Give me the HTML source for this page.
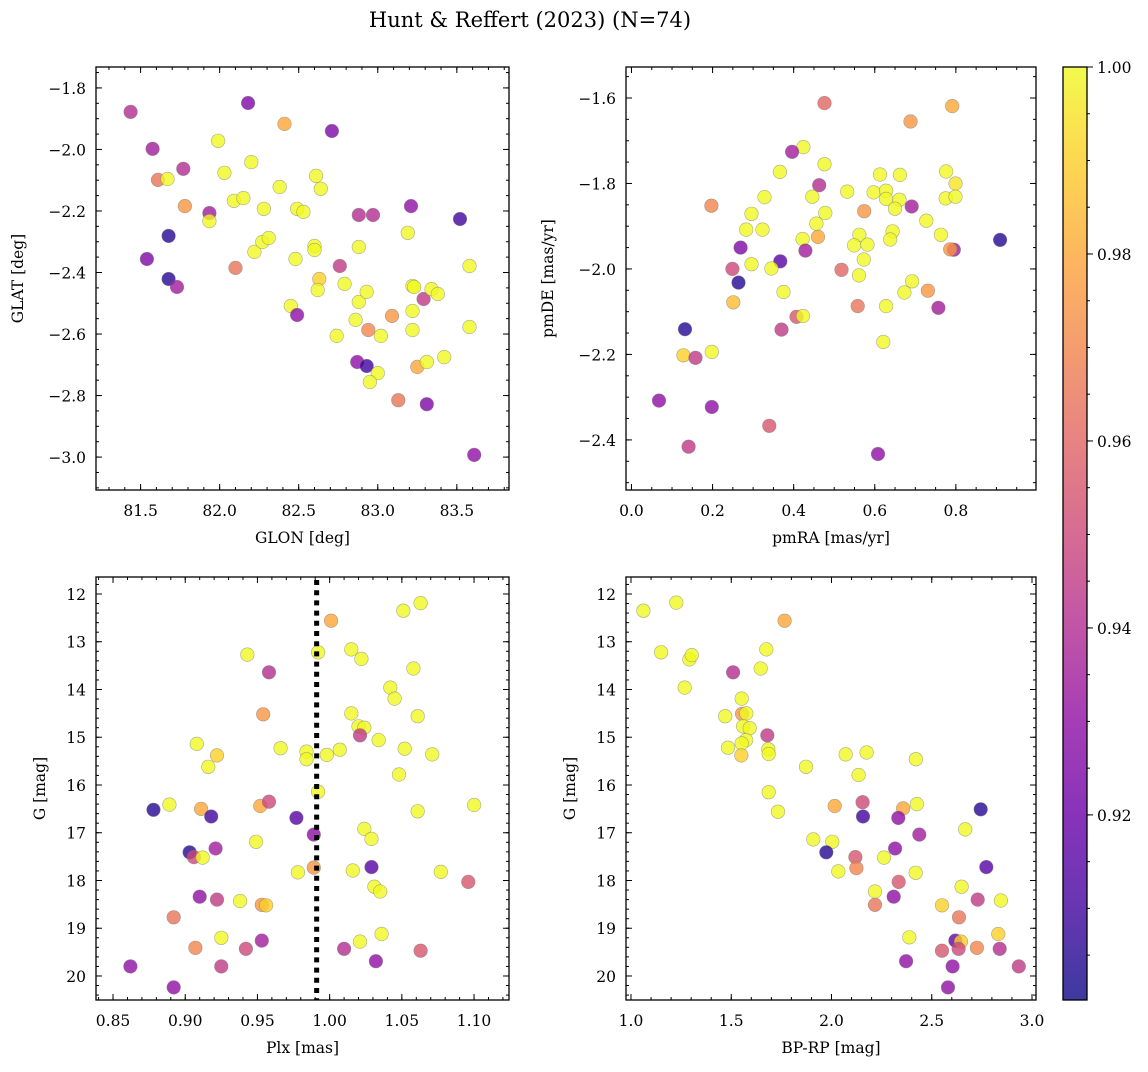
<!DOCTYPE html>
<html><head><meta charset="utf-8"><style>
html,body{margin:0;padding:0;background:#fff;}
svg text{font-family:"DejaVu Serif","Liberation Serif",serif;fill:#000;}
</style></head><body>
<svg id="fig" width="1148" height="1067" viewBox="0 0 1148 1067" xmlns="http://www.w3.org/2000/svg">
<text x="530" y="27" font-size="21" text-anchor="middle">Hunt &amp; Reffert (2023) (N=74)</text>
</svg>
<script>
// Panel 1: GLON vs GLAT
const glonA=[81.437,82.18,81.576,81.61,81.67,81.77,81.78,81.99,82.03,81.935,81.935,81.677,81.54,81.677,81.73,82.1,82.09,82.15,82.2,82.22,82.27,82.31,82.28,82.38,82.41,82.49,82.53,82.48,82.45,82.49,82.61,82.64,82.6,82.6,82.63,82.62,82.71,82.76,82.79,82.74,82.88,82.97,82.88,82.88,82.93,82.86,82.94,83.02,82.87,82.93,83.0,82.95,83.09,83.13,83.19,83.21,83.22,83.23,83.22,83.22,83.25,83.29,83.34,83.38,83.31,83.31,83.42,83.58,83.58,83.52,83.61];
const glatA=[-1.878,-1.849,-1.998,-2.099,-2.096,-2.063,-2.184,-1.972,-2.076,-2.207,-2.233,-2.281,-2.356,-2.421,-2.447,-2.385,-2.167,-2.158,-2.041,-2.333,-2.301,-2.288,-2.193,-2.122,-1.917,-2.193,-2.203,-2.356,-2.509,-2.538,-2.086,-2.128,-2.314,-2.327,-2.421,-2.457,-1.94,-2.379,-2.437,-2.606,-2.213,-2.213,-2.317,-2.496,-2.463,-2.554,-2.587,-2.606,-2.691,-2.704,-2.727,-2.756,-2.541,-2.815,-2.271,-2.184,-2.444,-2.447,-2.525,-2.587,-2.707,-2.486,-2.454,-2.47,-2.691,-2.828,-2.675,-2.379,-2.577,-2.226,-2.993];
const prob1=[.94,.925,.935,.965,1,.94,.975,1,1,.935,1,.905,.925,.905,.935,.965,1,1,1,1,1,1,1,1,.98,1,1,1,1,.93,1,1,1,1,.99,1,.925,.945,1,1,.94,.94,1,1,1,1,.97,1,.93,.91,1,1,.975,.965,1,.93,1,1,1,1,.98,.945,1,1,1,.925,1,1,1,.91,.93];
// Panel 2: pmRA vs pmDE
const pmraA=[0.476,0.791,0.688,0.424,0.396,0.476,0.366,0.463,0.532,0.613,0.662,0.776,0.799,0.597,0.628,0.628,0.661,0.65,0.775,0.799,0.691,0.328,0.446,0.197,0.296,0.574,0.478,0.456,0.283,0.323,0.46,0.422,0.562,0.549,0.582,0.644,0.638,0.727,0.763,0.795,0.786,0.909,0.269,0.429,0.367,0.296,0.345,0.249,0.518,0.573,0.561,0.264,0.375,0.251,0.692,0.673,0.731,0.407,0.423,0.558,0.628,0.757,0.37,0.132,0.621,0.128,0.158,0.198,0.068,0.198,0.34,0.141,0.608];
const pmdeA=[-1.612,-1.619,-1.655,-1.715,-1.726,-1.755,-1.773,-1.804,-1.819,-1.779,-1.78,-1.772,-1.8,-1.821,-1.817,-1.836,-1.838,-1.859,-1.835,-1.831,-1.854,-1.832,-1.831,-1.852,-1.871,-1.865,-1.869,-1.894,-1.908,-1.908,-1.925,-1.93,-1.92,-1.945,-1.943,-1.912,-1.931,-1.887,-1.92,-1.955,-1.954,-1.932,-1.95,-1.957,-1.982,-1.989,-1.999,-2.0,-2.002,-1.978,-2.015,-2.032,-2.054,-2.078,-2.029,-2.055,-2.051,-2.112,-2.11,-2.087,-2.087,-2.091,-2.142,-2.141,-2.171,-2.202,-2.208,-2.194,-2.308,-2.323,-2.367,-2.416,-2.433];
const prob2=[.96,.98,.975,1,.935,1,1,.94,1,1,1,1,.995,1,1,1,1,1,1,1,.935,1,1,.97,1,.975,1,1,1,1,.98,1,1,1,1,1,1,1,1,.935,.975,.905,.925,.935,.915,1,1,.95,.96,1,1,.905,1,.985,1,1,.975,.955,1,.965,1,.935,.945,.905,1,.99,.945,1,.93,.93,.955,.945,.93];
// Panel 3: Plx vs G
const plxA=[1.063,1.051,1.001,0.943,0.992,1.015,1.022,1.058,0.958,1.042,1.045,0.954,1.015,1.061,1.020,1.024,1.021,1.034,0.908,0.922,0.916,0.966,0.984,0.984,0.998,1.007,1.052,1.071,1.048,0.992,0.878,0.889,0.911,0.918,0.952,0.958,0.977,1.061,1.100,0.989,1.024,1.029,0.949,0.903,0.906,0.912,0.921,0.978,0.989,1.016,1.029,1.077,1.096,1.031,1.035,0.910,0.922,0.938,0.953,0.956,0.892,0.925,0.907,0.942,0.953,1.010,1.021,1.036,1.063,1.032,0.862,0.925,0.892];
const gA=[12.19,12.35,12.56,13.27,13.22,13.16,13.36,13.56,13.64,13.96,14.19,14.52,14.50,14.56,14.77,14.80,14.96,15.06,15.14,15.38,15.62,15.23,15.30,15.46,15.37,15.26,15.24,15.36,15.78,16.14,16.52,16.41,16.50,16.66,16.44,16.35,16.69,16.55,16.42,17.04,16.92,17.13,17.19,17.41,17.51,17.52,17.33,17.83,17.73,17.79,17.72,17.82,18.03,18.13,18.23,18.34,18.40,18.43,18.51,18.52,18.77,19.20,19.41,19.43,19.26,19.43,19.28,19.12,19.47,19.69,19.80,19.80,20.24];
const prob3=[1,1,.98,1,1,1,1,1,.94,1,1,.975,1,1,1,1,.945,1,1,.99,1,1,1,1,1,1,1,1,1,1,.905,1,.98,.91,.98,.95,.915,1,1,.93,1,1,1,.905,.95,1,.935,1,.975,1,.915,1,.955,1,1,.93,.945,1,.975,.99,.965,1,.97,.95,.935,.94,1,1,.955,.93,.93,.945,.93];
// Panel 4: BP-RP vs G
const bprpA=[1.062,1.226,1.766,1.150,1.291,1.303,1.647,1.675,1.509,1.268,1.552,1.470,1.554,1.575,1.559,1.592,1.680,1.574,1.552,1.484,1.550,1.685,1.687,1.873,2.071,2.175,2.421,2.135,1.687,1.733,2.155,2.016,2.157,2.357,2.426,2.333,2.744,2.438,2.667,1.909,2.004,1.974,2.317,2.119,2.262,2.124,2.034,2.420,2.772,2.335,2.217,2.310,2.217,2.649,2.551,2.729,2.845,2.636,2.388,2.832,2.618,2.646,2.551,2.634,2.725,2.839,2.372,2.604,2.934,2.581];
const g4A=[12.35,12.18,12.56,13.22,13.37,13.28,13.56,13.16,13.64,13.96,14.19,14.56,14.51,14.50,14.77,14.81,14.96,15.06,15.13,15.22,15.38,15.25,15.35,15.62,15.36,15.32,15.46,15.79,16.15,16.56,16.36,16.44,16.66,16.49,16.40,16.69,16.51,17.04,16.93,17.14,17.19,17.41,17.33,17.51,17.52,17.74,17.81,17.84,17.72,18.03,18.23,18.34,18.51,18.13,18.52,18.40,18.42,18.77,19.19,19.12,19.26,19.28,19.47,19.43,19.41,19.43,19.69,19.80,19.80,20.24];
const prob4=[1,1,.98,1,1,1,1,1,.94,1,1,1,.975,1,1,1,.945,1,1,1,.99,1,1,1,1,1,1,1,1,1,.95,.98,.91,.98,1,.93,.905,.935,1,1,1,.905,.93,.955,1,.97,1,1,.915,.955,1,.93,.965,1,.99,.945,1,.965,1,.99,.92,.99,.955,.95,.97,.94,.93,.93,.945,.93];
const plxRef=[0.991];
const cbTicks=[0.92,0.94,0.96,0.98,1.00];

const NS="http://www.w3.org/2000/svg";
const svg=document.getElementById('fig');
function mk(tag,attrs,parent){const e=document.createElementNS(NS,tag);for(const k in attrs)e.setAttribute(k,attrs[k]);(parent||svg).appendChild(e);return e;}
const VMIN=0.9002,VMAX=1.0;
const stops=[[13,8,135],[65,4,157],[106,0,168],[143,13,164],[177,42,144],[204,71,120],[225,100,98],[242,132,75],[252,166,54],[252,206,37],[240,249,33]];
function plasma(v){let t=(v-VMIN)/(VMAX-VMIN);t=Math.max(0,Math.min(1,t));const f=t*10;const i=Math.min(9,Math.floor(f));const r=f-i;const a=stops[i],b=stops[i+1];return `rgb(${Math.round(a[0]+(b[0]-a[0])*r)},${Math.round(a[1]+(b[1]-a[1])*r)},${Math.round(a[2]+(b[2]-a[2])*r)})`;}
function lin(d0,d1,r0,r1){return v=>r0+(v-d0)*(r1-r0)/(d1-d0);}
function fmt(v,dec){return (v<0?'\u2212':'')+Math.abs(v).toFixed(dec);}

const panels=[
 {name:'glon-glat',L:96,T:67,R:509,B:490,x0:81.218,x1:83.83,y0:-3.107,y1:-1.732,xt:[81.5,82,82.5,83,83.5],xm:0.1,xd:1,yt:[-1.8,-2.0,-2.2,-2.4,-2.6,-2.8,-3.0],ym:0.05,yd:1,xl:'GLON [deg]',yl:'GLAT [deg]',ylx:18,xs:glonA,ys:glatA,cs:prob1},
 {name:'pmra-pmde',L:626,T:67,R:1036,B:490,x0:-0.0135,x1:0.9976,y0:-2.5172,y1:-1.5275,xt:[0,0.2,0.4,0.6,0.8],xm:0.05,xd:1,yt:[-1.6,-1.8,-2.0,-2.2,-2.4],ym:0.05,yd:1,xl:'pmRA [mas/yr]',yl:'pmDE [mas/yr]',ylx:548,xs:pmraA,ys:pmdeA,cs:prob2},
 {name:'plx-g',L:96,T:577,R:509,B:1000,x0:0.8382,x1:1.1242,y0:20.503,y1:11.644,xt:[0.85,0.9,0.95,1.0,1.05,1.1],xm:0.01,xd:2,yt:[12,13,14,15,16,17,18,19,20],ym:0.2,yd:0,xl:'Plx [mas]',yl:'G [mag]',ylx:40,xs:plxA,ys:gA,cs:prob3},
 {name:'bprp-g',L:626,T:577,R:1036,B:1000,x0:0.975,x1:3.02,y0:20.503,y1:11.644,xt:[1.0,1.5,2.0,2.5,3.0],xm:0.1,xd:1,yt:[12,13,14,15,16,17,18,19,20],ym:0.2,yd:0,xl:'BP-RP [mag]',yl:'G [mag]',ylx:570,xs:bprpA,ys:g4A,cs:prob4}
];

panels.forEach(p=>{
 const g=mk('g',{});
 
 
 const X=lin(p.x0,p.x1,p.L,p.R), Y=lin(p.y0,p.y1,p.B,p.T);
 const cg=mk('g',{},g);
 
 
 for(let i=0;i<p.xs.length;i++){
  const c=mk('circle',{cx:X(p.xs[i]).toFixed(1),cy:Y(p.ys[i]).toFixed(1),r:6.8,fill:plasma(p.cs[i]),'fill-opacity':0.8,stroke:'#777','stroke-opacity':0.6,'stroke-width':0.6},cg);
  
  
 }
 if(p.name==='plx-g'){
  plxRef.forEach(v=>{
   const l=mk('line',{x1:X(v),x2:X(v),y1:p.T+3,y2:p.B,stroke:'#000','stroke-width':5,'stroke-dasharray':'5,5.2'},g);
   
   
  });
 }
 const fr=mk('rect',{x:p.L,y:p.T,width:p.R-p.L,height:p.B-p.T,fill:'none',stroke:'#000','stroke-width':1.3},g);
 
 
 const tg=mk('g',{stroke:'#000','stroke-width':1},g);
 
 
 const xa=Math.min(p.x0,p.x1), xb=Math.max(p.x0,p.x1);
 for(let v=Math.ceil(xa/p.xm)*p.xm; v<=xb; v+=p.xm){const px=X(v);mk('line',{x1:px,x2:px,y1:p.B,y2:p.B-3},tg);mk('line',{x1:px,x2:px,y1:p.T,y2:p.T+3},tg);}
 const ya=Math.min(p.y0,p.y1), yb=Math.max(p.y0,p.y1);
 for(let v=Math.ceil(ya/p.ym)*p.ym; v<=yb; v+=p.ym){const py=Y(v);mk('line',{x1:p.L,x2:p.L+3,y1:py,y2:py},tg);mk('line',{x1:p.R,x2:p.R-3,y1:py,y2:py},tg);}
 p.xt.forEach(v=>{const px=X(v);mk('line',{x1:px,x2:px,y1:p.B,y2:p.B-6},tg);mk('line',{x1:px,x2:px,y1:p.T,y2:p.T+6},tg);
  const t=mk('text',{x:px,y:p.B+26,'font-size':15.5,'text-anchor':'middle'},g);t.textContent=fmt(v,p.xd);
  
  });
 p.yt.forEach(v=>{const py=Y(v);mk('line',{x1:p.L,x2:p.L+6,y1:py,y2:py},tg);mk('line',{x1:p.R,x2:p.R-6,y1:py,y2:py},tg);
  const t=mk('text',{x:p.L-10,y:py+6,'font-size':15.5,'text-anchor':'end'},g);t.textContent=fmt(v,p.yd);
  
  });
 const xl=mk('text',{x:(p.L+p.R)/2,y:p.B+53,'font-size':15.5,'text-anchor':'middle'},g);xl.textContent=p.xl;
 
 
 const cy=(p.T+p.B)/2;
 const yl=mk('text',{x:p.ylx,y:cy,'font-size':15.5,'text-anchor':'middle',transform:`rotate(-90 ${p.ylx} ${cy})`,dy:5},g);yl.textContent=p.yl;
 
 
});

// colorbar
const cbL=1063,cbR=1087,cbT=67,cbB=1000;
const cb=mk('g',{});


const defs=mk('defs',{});
const lg=mk('linearGradient',{id:'pl',x1:0,y1:1,x2:0,y2:0},defs);
for(let i=0;i<=20;i++){const v=VMIN+(VMAX-VMIN)*i/20;mk('stop',{offset:(i/20),'stop-color':plasma(v),'stop-opacity':0.8},lg);}
mk('rect',{x:cbL,y:cbT,width:cbR-cbL,height:cbB-cbT,fill:'url(#pl)'},cb);
mk('rect',{x:cbL,y:cbT,width:cbR-cbL,height:cbB-cbT,fill:'none',stroke:'#000','stroke-width':1.3},cb);
const CY=lin(VMIN,VMAX,cbB,cbT);
for(let v=0.905;v<1.0001;v+=0.005){mk('line',{x1:cbR,x2:cbR+3,y1:CY(v),y2:CY(v),stroke:'#000'},cb);}
cbTicks.forEach(v=>{const py=CY(v);mk('line',{x1:cbR,x2:cbR+6,y1:py,y2:py,stroke:'#000'},cb);
 const t=mk('text',{x:cbR+10,y:py+6,'font-size':15.5},cb);t.textContent=v.toFixed(2);
 
 });
</script>
</body></html>
